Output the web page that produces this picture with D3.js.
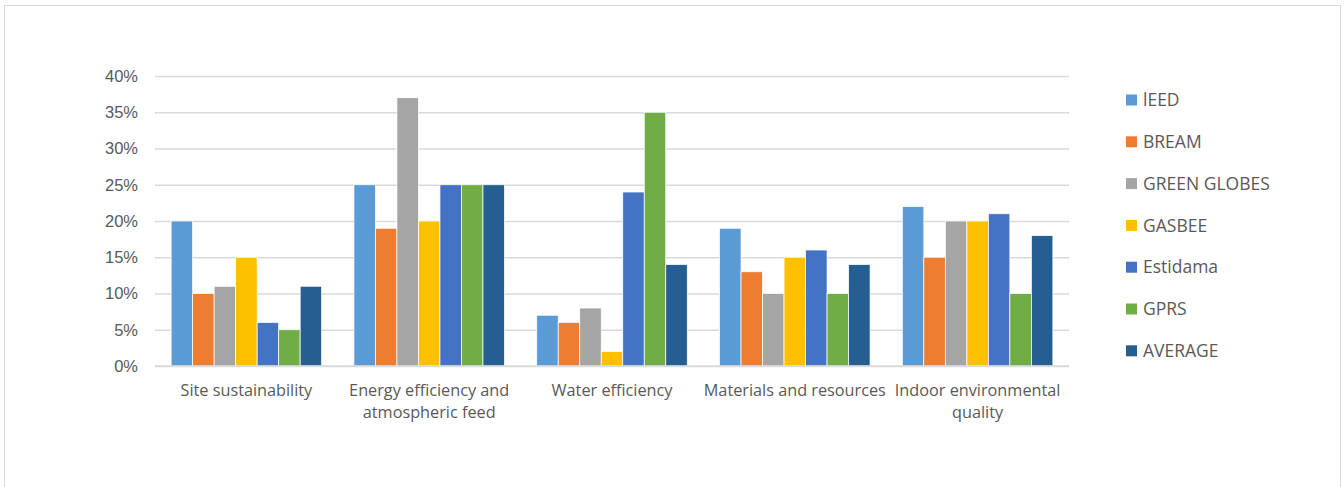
<!DOCTYPE html>
<html>
<head>
<meta charset="utf-8">
<script src="https://cdn.jsdelivr.net/npm/d3@7"></script>
<style>
  body { margin: 0; background: #fff; }
  svg { display: block; font-family: "Open Sans", Lato, sans-serif; }
</style>
</head>
<body>
<div id="chart-container"></div>
<script>
// categories (x axis) and how their labels wrap
const categories = [
  "Site sustainability",
  "Energy efficiency and atmospheric feed",
  "Water efficiency",
  "Materials and resources",
  "Indoor environmental quality"
];
const categoryLines = [
  ["Site sustainability"],
  ["Energy efficiency and", "atmospheric feed"],
  ["Water efficiency"],
  ["Materials and resources"],
  ["Indoor environmental", "quality"]
];

// series names + colours
const seriesNames = ["lEED", "BREAM", "GREEN GLOBES", "GASBEE", "Estidama", "GPRS", "AVERAGE"];
const seriesColors = ["#5b9bd5", "#ed7d31", "#a5a5a5", "#ffc000", "#4472c4", "#70ad47", "#255e91"];

// values in percent, one array per series (order = categories)
const leed     = [20, 25, 7, 19, 22];
const bream    = [10, 19, 6, 13, 15];
const green    = [11, 37, 8, 10, 20];
const gasbee   = [15, 20, 2, 15, 20];
const estidama = [6, 25, 24, 16, 21];
const gprs     = [5, 25, 35, 10, 10];
const average  = [11, 25, 14, 14, 18];

const yTicks = [0, 5, 10, 15, 20, 25, 30, 35, 40];

const seriesValues = [leed, bream, green, gasbee, estidama, gprs, average];

const width = 1344, height = 487;
const marginLeft = 155, marginRight = 275, marginTop = 76, marginBottom = 121;

const svg = d3.select("#chart-container")
  .append("svg")
  .attr("width", width)
  .attr("height", height);

// chart frame
svg.append("rect")
  .attr("x", 4.5).attr("y", 5.5)
  .attr("width", 1336).attr("height", 500)
  .attr("fill", "#fff")
  .attr("stroke", "#d9d9d9")
  .attr("stroke-width", 1);

const x0 = d3.scaleBand()
  .domain(categories)
  .range([marginLeft, width - marginRight])
  .padding(0);

// Excel-style gap width 150%: 7 bars + 1.5 bar widths of gap per band
const bw = x0.bandwidth();
const gap = bw * 1.5 / 8.5;
const x1 = d3.scaleBand()
  .domain(seriesNames)
  .range([gap / 2, bw - gap / 2])
  .padding(0);

const y = d3.scaleLinear()
  .domain([0, 40])
  .range([height - marginBottom, marginTop]);

// gridlines + y tick labels
const yAxis = svg.append("g")
  .attr("transform", `translate(${marginLeft},0)`)
  .call(d3.axisLeft(y)
    .tickValues(yTicks)
    .tickSize(-(width - marginRight - marginLeft))
    .tickPadding(17)
    .tickFormat(d => d + "%"));
yAxis.select(".domain").remove();
yAxis.selectAll("line")
  .attr("stroke", "#d9d9d9")
  .attr("stroke-width", 1.3);
yAxis.selectAll("text")
  .attr("fill", "#595959")
  .style("font-size", "16.5px");

// bars
const groups = svg.append("g")
  .selectAll("g")
  .data(categories)
  .join("g")
  .attr("transform", d => `translate(${x0(d)},0)`);

groups.selectAll("rect")
  .data((c, ci) => seriesNames.map((s, si) => ({ s, si, v: seriesValues[si][ci] })))
  .join("rect")
  .attr("x", d => x1(d.s))
  .attr("y", d => y(d.v))
  .attr("width", x1.bandwidth())
  .attr("height", d => y(0) - y(d.v))
  .attr("fill", d => seriesColors[d.si])
  .attr("stroke", "#fff")
  .attr("stroke-width", 0.75);

// x axis line
svg.append("line")
  .attr("x1", marginLeft).attr("x2", width - marginRight)
  .attr("y1", y(0)).attr("y2", y(0))
  .attr("stroke", "#d9d9d9")
  .attr("stroke-width", 1.3);

// category labels
const xLab = svg.append("g")
  .selectAll("text")
  .data(categories)
  .join("text")
  .attr("x", d => x0(d) + bw / 2)
  .attr("y", 396)
  .attr("text-anchor", "middle")
  .attr("fill", "#595959")
  .style("font-size", "16.25px");
xLab.selectAll("tspan")
  .data((d, i) => categoryLines[i])
  .join("tspan")
  .attr("x", function () { return d3.select(this.parentNode).attr("x"); })
  .attr("dy", (d, i) => i === 0 ? 0 : 22)
  .text(d => d);

// legend
const legend = svg.append("g")
  .selectAll("g")
  .data(seriesNames)
  .join("g")
  .attr("transform", (d, i) => `translate(1126,${100 + i * 41.8})`);
legend.append("rect")
  .attr("x", 0).attr("y", -5.5)
  .attr("width", 11).attr("height", 11)
  .attr("fill", (d, i) => seriesColors[i]);
legend.append("text")
  .attr("x", 17)
  .attr("y", 0)
  .attr("dy", "0.35em")
  .attr("fill", "#595959")
  .style("font-size", "17.5px")
  .text(d => d);
</script>
</body>
</html>
